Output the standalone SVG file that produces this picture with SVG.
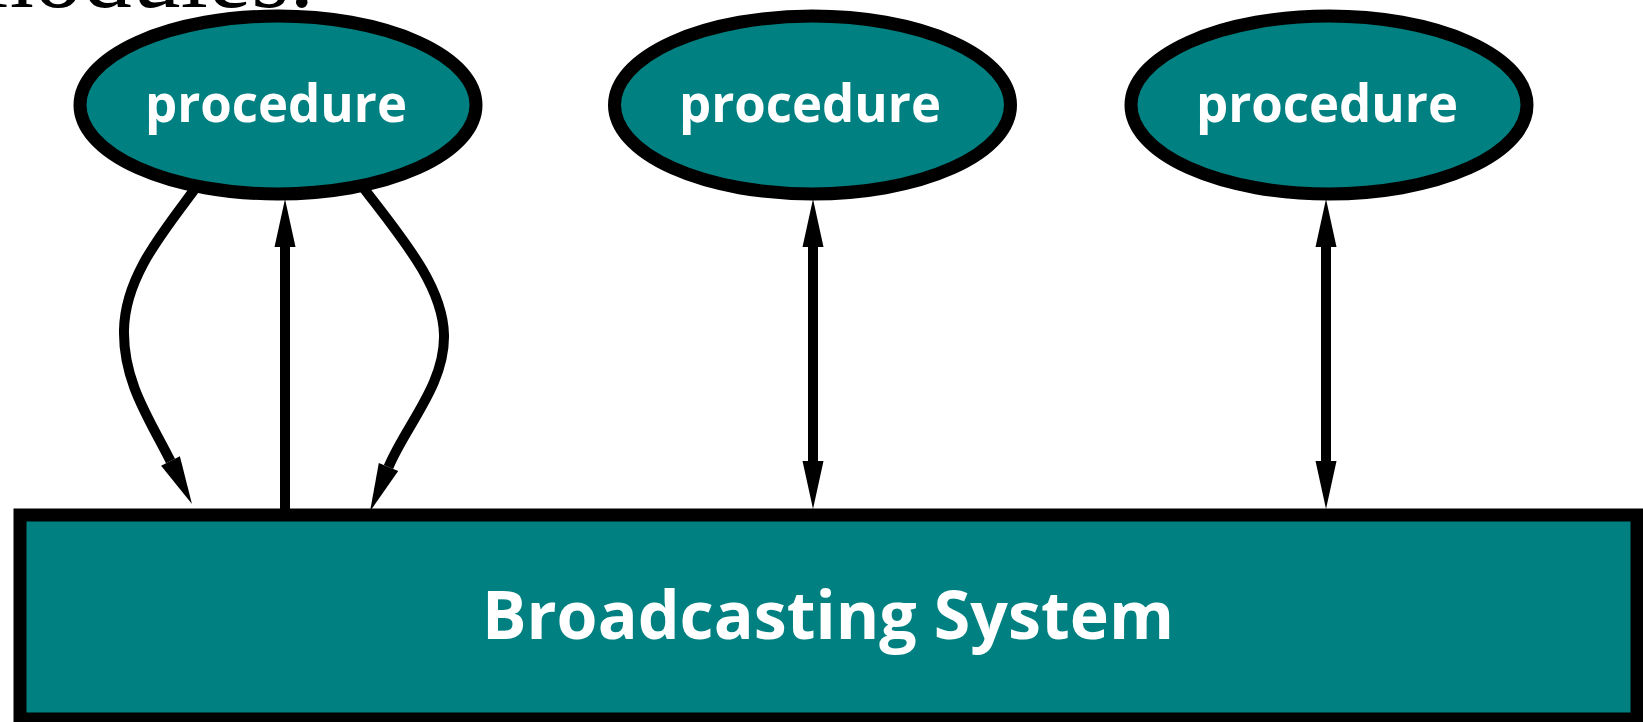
<svg xmlns="http://www.w3.org/2000/svg" width="1643" height="722" viewBox="0 0 1643 722">
<defs>
<style>
.node{fill:#008080;stroke:#000;stroke-width:13}
.lbl{fill:#fff;font-family:"Open Sans","DejaVu Sans",sans-serif;font-weight:700;text-anchor:middle}
.edge{fill:none;stroke:#000;stroke-width:10}
</style>
<marker id="ah" markerUnits="userSpaceOnUse" markerWidth="54" markerHeight="22" refX="0" refY="10.5" orient="auto-start-reverse" overflow="visible">
<path d="M0,0 L48,10.5 L0,21 z" fill="#000"/>
</marker>
</defs>
<rect width="1643" height="722" fill="#fff"/>
<text x="314" y="7" font-family="Liberation Serif, serif" font-size="98" text-anchor="end" fill="#000">modules.</text>
<g id="connectors">
<path class="edge" d="M197,186 C165,230 125,275 124,330 C123,382 150,420 170.5,461" marker-end="url(#ah)"/>
<path class="edge" d="M362,186 C400,236 443,285 444,335 C445,385 406,425 388.5,467" marker-end="url(#ah)"/>
<path class="edge" d="M285,509 L285,247" marker-end="url(#ah)"/>
<path class="edge" d="M813,247 L813,461" marker-start="url(#ah)" marker-end="url(#ah)"/>
<path class="edge" d="M1326,247 L1326,461" marker-start="url(#ah)" marker-end="url(#ah)"/>
</g>
<g id="proc1">
<ellipse class="node" cx="278" cy="105" rx="198" ry="89"/>
<text class="lbl" x="276" y="122" font-size="52" textLength="262" lengthAdjust="spacingAndGlyphs">procedure</text>
</g>
<g id="proc2">
<ellipse class="node" cx="812.5" cy="105" rx="198" ry="89"/>
<text class="lbl" x="810" y="122" font-size="52" textLength="262" lengthAdjust="spacingAndGlyphs">procedure</text>
</g>
<g id="proc3">
<ellipse class="node" cx="1329" cy="105" rx="198" ry="89"/>
<text class="lbl" x="1327" y="122" font-size="52" textLength="262" lengthAdjust="spacingAndGlyphs">procedure</text>
</g>
<g id="broadcast">
<rect class="node" x="20" y="515" width="1617" height="204"/>
<text class="lbl" x="828" y="639" font-size="66" textLength="692" lengthAdjust="spacingAndGlyphs">Broadcasting System</text>
</g>
</svg>
